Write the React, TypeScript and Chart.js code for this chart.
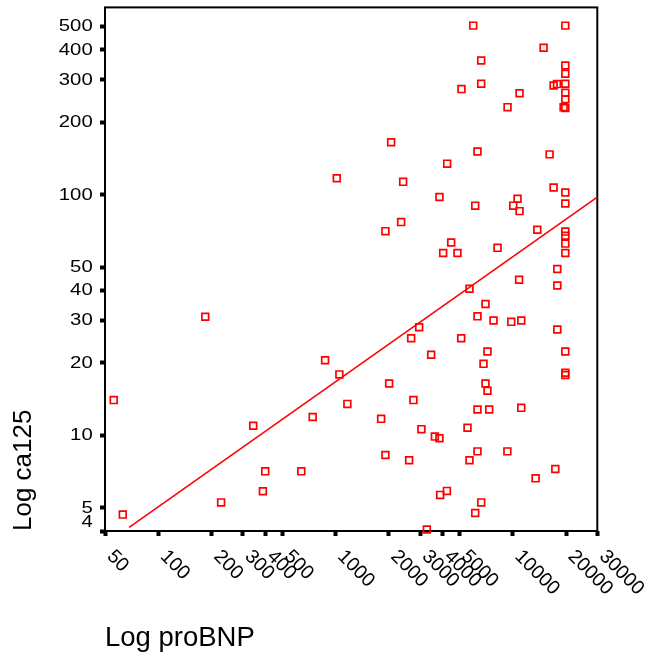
import { useEffect, useRef } from 'react';
import { Chart, registerables } from 'chart.js';

Chart.register(...registerables);

// proBNP (x) and ca125 (y) values of each case
const proBNP = [
  56, 63, 184, 226, 343, 389, 401, 641, 743, 873,
  1016, 1051, 1166, 1808, 1912, 1912, 2006, 2059, 2345, 2407,
  2602, 2671, 2751, 2963, 3052, 3276, 3464, 3635, 3858, 3858,
  3894, 4049, 4249, 4265, 4493, 4877, 5137, 5117, 5555, 5701,
  5701, 5982, 6140, 6140, 6325, 6325, 6325, 6325, 6637, 6637,
  6637, 7019, 6839, 7019, 7204, 7204, 7365, 7790, 8208, 9346,
  9325, 9806, 10065, 10643, 10924, 10924, 10860, 11170, 11170, 13755,
  13455, 14928, 16143, 17005, 17005, 17773, 17385, 17843, 17843, 17843,
  19800, 19800, 19800, 19800, 19800, 19800, 19364, 19800, 19800, 19800,
  19800, 19800, 19800, 19800, 19800, 19800, 19800,
];
const ca125 = [
  14.0, 4.68, 31.1, 5.26, 10.96, 5.85, 7.08, 7.08, 11.9, 20.5,
  117, 17.9, 13.5, 11.7, 70.5, 8.28, 16.4, 165, 76.9, 113,
  7.87, 25.3, 14.0, 28.1, 10.6, 4.06, 21.6, 9.87, 9.71, 97.8,
  5.65, 57.2, 5.87, 134.5, 63.3, 57.2, 274.5, 25.3, 10.75, 40.6,
  7.87, 504, 90.0, 4.75, 31.2, 151, 12.8, 8.57, 361, 289,
  5.26, 35.1, 19.8, 16.4, 15.3, 22.3, 12.8, 30.0, 60.1, 231,
  8.57, 29.6, 90.0, 96.2, 85.4, 264, 44.3, 30.0, 13.0, 71.5,
  6.62, 408, 147, 107, 284, 288, 7.24, 49.1, 41.9, 27.5,
  504, 344, 318, 289, 265, 249, 231, 229, 102, 91.8,
  70.2, 67.5, 62.6, 57.2, 22.3, 18.2, 17.8,
];

// regression line end points (log-log fit)
const fitX = [68.4, 30000];
const fitY = [4.14, 97.6];

const xTickValues = [50, 100, 200, 300, 400, 500, 1000, 2000, 3000, 4000, 5000, 10000, 20000, 30000];
const yTickValues = [4, 5, 10, 20, 30, 40, 50, 100, 200, 300, 400, 500];

const xTitle = 'Log proBNP';
const yTitle = 'Log ca125';

const FONT = '"Liberation Sans", Arial, sans-serif';

const decorPlugin = {
  id: 'decor',
  beforeDatasetsDraw(chart: any) {
    const { ctx, chartArea: a } = chart;
    ctx.save();
    ctx.strokeStyle = '#000';
    ctx.lineWidth = 2;
    ctx.strokeRect(a.left, a.top, a.right - a.left, a.bottom - a.top);
    ctx.restore();
  },
  afterDraw(chart: any) {
    const { ctx, chartArea: a } = chart;
    const xs = chart.scales.x;
    const ys = chart.scales.y;
    ctx.save();
    ctx.fillStyle = '#000';
    // x tick labels, rotated 45 degrees clockwise, starting at the tick
    ctx.font = `19.5px ${FONT}`;
    ctx.textAlign = 'left';
    ctx.textBaseline = 'middle';
    for (const v of xTickValues) {
      const px = xs.getPixelForValue(v);
      ctx.save();
      ctx.translate(px + 5, a.bottom + 22.5);
      ctx.rotate(Math.PI / 4);
      ctx.fillText(String(v), 0, 0);
      ctx.restore();
    }
    // y tick labels (wide face)
    ctx.font = `16px ${FONT}`;
    ctx.textAlign = 'right';
    ctx.textBaseline = 'middle';
    for (const v of yTickValues) {
      let py = ys.getPixelForValue(v);
      if (v === yTickValues[0]) py -= 8.5;
      ctx.save();
      ctx.translate(a.left - 12.3, py + 0.5);
      ctx.scale(1.27, 1);
      ctx.fillText(String(v), 0, 0);
      ctx.restore();
    }
    // axis titles
    ctx.textAlign = 'left';
    ctx.textBaseline = 'alphabetic';
    ctx.font = `27.5px ${FONT}`;
    ctx.fillText(xTitle, a.left, 646);
    ctx.font = `26px ${FONT}`;
    ctx.save();
    ctx.translate(31, a.bottom);
    ctx.rotate(-Math.PI / 2);
    ctx.fillText(yTitle, 0, 0);
    ctx.restore();
    ctx.restore();
  },
};

export default function App() {
  const ref = useRef<HTMLCanvasElement | null>(null);

  useEffect(() => {
    document.body.style.margin = '0';
    const canvas = ref.current;
    if (!canvas) return;
    const points = proBNP.map((x, i) => ({ x, y: ca125[i] }));
    const line = fitX.map((x, i) => ({ x, y: fitY[i] }));
    const tickGrid = {
      drawOnChartArea: false,
      drawTicks: true,
      tickLength: 5,
      tickWidth: 4,
      tickColor: '#000',
      color: '#000',
    };
    const chart = new Chart(canvas, {
      type: 'scatter',
      data: {
        datasets: [
          {
            type: 'line',
            data: line,
            borderColor: '#ff0000',
            borderWidth: 1.6,
            pointRadius: 0,
            fill: false,
            clip: false,
          } as any,
          {
            data: points,
            pointStyle: 'rect',
            pointRadius: 4.8,
            pointBorderWidth: 1.7,
            borderColor: '#ff0000',
            backgroundColor: 'rgba(0,0,0,0)',
            pointBackgroundColor: 'rgba(0,0,0,0)',
            clip: false,
          } as any,
        ],
      },
      options: {
        responsive: false,
        devicePixelRatio: 1,
        animation: false,
        events: [],
        layout: { padding: { top: 7.4, right: 51.7, left: 0, bottom: 0 } },
        plugins: { legend: { display: false }, tooltip: { enabled: false } },
        scales: {
          x: {
            type: 'logarithmic',
            min: 50,
            max: 30000,
            border: { display: false },
            grid: tickGrid,
            ticks: { display: false, autoSkip: false },
            afterBuildTicks: (scale: any) => {
              scale.ticks = xTickValues.map((v) => ({ value: v }));
            },
            afterFit: (scale: any) => {
              scale.height = 125;
              scale.paddingLeft = 0;
              scale.paddingRight = 0;
            },
          },
          y: {
            type: 'logarithmic',
            min: 4,
            max: 600,
            border: { display: false },
            grid: tickGrid,
            ticks: { display: false, autoSkip: false },
            afterBuildTicks: (scale: any) => {
              scale.ticks = yTickValues.map((v) => ({ value: v }));
            },
            afterFit: (scale: any) => {
              scale.width = 105;
              scale.paddingTop = 0;
              scale.paddingBottom = 0;
            },
          },
        },
      },
      plugins: [decorPlugin],
    });
    return () => chart.destroy();
  }, []);

  return (
    <div style={{ width: 649, height: 656 }}>
      <canvas ref={ref} width={649} height={656} style={{ display: 'block' }} />
    </div>
  );
}
